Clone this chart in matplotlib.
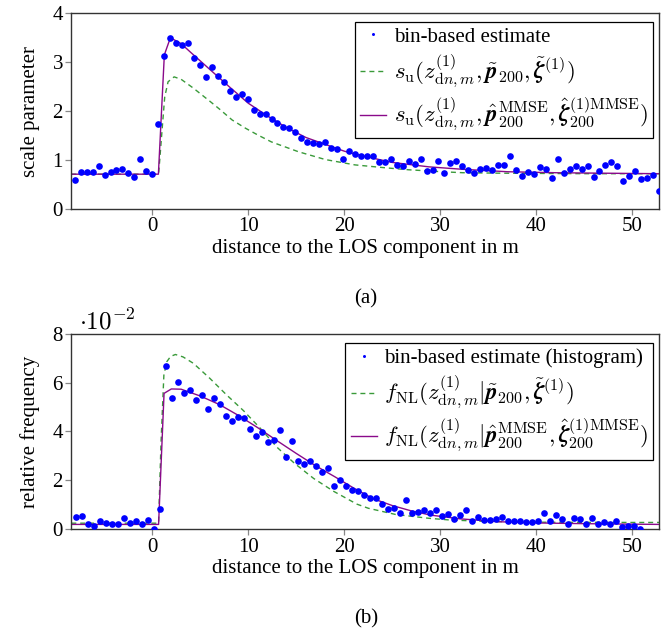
import matplotlib
matplotlib.use("Agg")
import matplotlib.pyplot as plt
import numpy as np

plt.rcParams['font.family'] = ['Liberation Serif', 'DejaVu Serif']
plt.rcParams['mathtext.fontset'] = 'cm'

# ---------------- data: panel (a) ----------------
x_top = np.linspace(-8.08, 52.78, 99)  # bin centres (m)
scale_est = [0.585, 0.75, 0.76, 0.76, 0.88, 0.69, 0.75, 0.80, 0.82, 0.73,
             0.65, 1.02, 0.78, 0.71, 1.74, 3.13, 3.50, 3.40, 3.36, 3.40,
             3.09, 2.95, 2.69, 2.90, 2.72, 2.60, 2.41, 2.29, 2.35, 2.24,
             2.02, 1.94, 1.95, 1.83, 1.76, 1.67, 1.66, 1.57, 1.44, 1.36,
             1.34, 1.33, 1.36, 1.24, 1.22, 1.02, 1.19, 1.12, 1.09, 1.08,
             1.09, 0.95, 0.95, 1.03, 0.90, 0.87, 0.97, 0.91, 1.02, 0.77,
             0.79, 0.97, 0.74, 0.94, 0.97, 0.88, 0.80, 0.73, 0.81, 0.83,
             0.79, 0.90, 0.90, 1.09, 0.79, 0.68, 0.76, 0.71, 0.86, 0.82,
             0.63, 1.03, 0.73, 0.82, 0.88, 0.82, 0.88, 0.65, 0.78, 0.90,
             0.95, 0.88, 0.58, 0.67, 0.78, 0.61, 0.64, 0.69, 0.36]

su_tilde_x = [-8.44, 0.65, 0.77, 1.04, 1.29, 1.64, 2.27, 3.0, 4.27, 6.0, 7.0,
              8.3, 9.7, 11.0, 12.4, 13.8, 15.2, 16.6, 18.0, 19.4, 21.1, 24.3,
              26.7, 30.2, 32.3, 36.4, 45.0, 52.8]
su_tilde_y = [0.71, 0.71, 1.0, 1.68, 2.29, 2.6, 2.70, 2.65, 2.47, 2.2, 2.04,
              1.82, 1.65, 1.51, 1.37, 1.27, 1.17, 1.09, 1.01, 0.96, 0.90, 0.84,
              0.80, 0.76, 0.74, 0.73, 0.72, 0.72]

su_mmse_x = [-8.44, 0.63, 1.25, 1.88, 3.0, 4.0, 6.0, 8.0, 10.0, 12.0, 14.0,
             16.0, 18.0, 20.0, 22.0, 25.0, 28.8, 32.3, 37.0, 42.0, 47.0, 52.8]
su_mmse_y = [0.71, 0.71, 3.15, 3.50, 3.38, 3.2, 2.85, 2.5, 2.16, 1.9, 1.66,
             1.46, 1.32, 1.18, 1.08, 0.95, 0.86, 0.81, 0.76, 0.74, 0.73, 0.72]

# ---------------- data: panel (b) (values in units of 1e-2) ----------------
x_bot = np.linspace(-7.94, 50.81, 95)  # bin centres (m)
freq_est = [0.50, 0.54, 0.22, 0.14, 0.35, 0.27, 0.20, 0.22, 0.47, 0.24,
            0.35, 0.22, 0.39, 0.03, 0.83, 6.66, 5.37, 6.02, 5.59, 5.70,
            5.29, 5.48, 4.92, 5.37, 5.11, 4.63, 4.42, 4.59, 4.56, 4.09,
            3.82, 3.97, 3.56, 3.65, 4.05, 2.97, 3.60, 2.78, 2.67, 2.78,
            2.58, 2.34, 2.49, 1.76, 2.02, 1.77, 1.61, 1.58, 1.40, 1.28,
            1.29, 1.03, 0.83, 0.88, 0.68, 1.20, 0.68, 0.72, 0.80, 0.68,
            0.80, 0.53, 0.61, 0.42, 0.58, 0.80, 0.35, 0.52, 0.37, 0.38,
            0.41, 0.52, 0.33, 0.34, 0.34, 0.29, 0.29, 0.35, 0.65, 0.35,
            0.60, 0.41, 0.23, 0.47, 0.41, 0.23, 0.46, 0.23, 0.29, 0.23,
            0.33, 0.11, 0.15, 0.15, 0.02]

f_tilde_x = [-8.44, 0.65, 0.9, 1.2, 1.5, 1.9, 2.4, 3.2, 4.27, 6.0, 7.75, 9.5,
             11.2, 13.0, 14.8, 16.8, 18.9, 21.3, 22.5, 25.3, 28.8, 31.0, 35.0,
             40.0, 50.0, 52.8]
f_tilde_y = [0.25, 0.25, 3.5, 6.3, 6.85, 7.07, 7.15, 7.05, 6.79, 6.17, 5.49,
             4.85, 4.15, 3.35, 2.7, 2.08, 1.55, 1.03, 0.86, 0.61, 0.45, 0.38,
             0.32, 0.29, 0.28, 0.28]

f_mmse_x = [-8.44, 0.65, 1.22, 1.98, 3.0, 5.0, 7.0, 9.0, 11.0, 13.0, 15.0,
            17.0, 19.0, 21.0, 23.0, 25.0, 27.0, 29.0, 32.0, 36.0, 40.0, 45.0,
            50.0, 52.8]
f_mmse_y = [0.20, 0.20, 5.56, 5.74, 5.73, 5.45, 5.1, 4.65, 4.15, 3.62, 3.1,
            2.6, 2.15, 1.68, 1.25, 0.97, 0.75, 0.58, 0.43, 0.31, 0.26, 0.23,
            0.21, 0.20]

# ---------------- styling ----------------
BLUE = '#0000ff'
GREEN = '#3a9a3a'
PURPLE = '#8a0a8a'
FS = 15
MATH_FS = 16.4

fig = plt.figure(figsize=(6.62, 6.37), dpi=100)
W, H = 662.0, 637.0
L, R = 71.3, 659.3
ax1 = fig.add_axes([L / W, 1 - 208.9 / H, (R - L) / W, 195.6 / H])
ax2 = fig.add_axes([L / W, 1 - 529.3 / H, (R - L) / W, 195.6 / H])

dash = (0, (3.6, 2.8))


def style(ax):
    for s in ax.spines.values():
        s.set_linewidth(1.0)
        s.set_color('#333333')
    ax.tick_params(direction='out', length=4, width=0.9, color='#888888',
                   labelsize=FS, pad=2, top=False, right=False)
    ax.set_xlim(-8.44, 52.8)
    ax.set_xticks([0, 10, 20, 30, 40, 50])
    ax.set_xlabel('distance to the LOS component in m', fontsize=FS, labelpad=2)


leg_kw = dict(loc='upper right', borderaxespad=0, fontsize=FS, fancybox=False,
              framealpha=1, edgecolor='black', markerscale=0.45, numpoints=1,
              handlelength=1.25, handletextpad=0.35, borderpad=0.25,
              labelspacing=0.3)


def finish_legend(leg):
    leg.get_frame().set_linewidth(0.9)
    for t in leg.get_texts()[1:]:
        t.set_fontsize(MATH_FS)


# panel (a)
ax1.plot(x_top, scale_est, 'o', color=BLUE, ms=4.8, mec='none',
         label='bin-based estimate', zorder=3, clip_on=True)
ax1.plot(su_tilde_x, su_tilde_y, color=GREEN, lw=1.0, ls=dash,
         label=r'$s_{\mathrm{u}}(z^{(1)}_{\mathrm{d}n,m}, \tilde{\boldsymbol{p}}_{200}, \tilde{\boldsymbol{\zeta}}^{(1)})$')
ax1.plot(su_mmse_x, su_mmse_y, color=PURPLE, lw=1.0,
         label=r'$s_{\mathrm{u}}(z^{(1)}_{\mathrm{d}n,m}, \hat{\boldsymbol{p}}^{\mathrm{MMSE}}_{200}, \hat{\boldsymbol{\zeta}}^{(1)\mathrm{MMSE}}_{200})$')
style(ax1)
ax1.set_ylim(0, 4)
ax1.set_yticks([0, 1, 2, 3, 4])
ax1.set_ylabel('scale parameter', fontsize=FS, labelpad=9)
leg1 = ax1.legend(bbox_to_anchor=(0.9898, 0.957), **leg_kw)
finish_legend(leg1)

# panel (b)
ax2.plot(x_bot, freq_est, 'o', color=BLUE, ms=4.8, mec='none',
         label='bin-based estimate (histogram)', zorder=3)
ax2.plot(f_tilde_x, f_tilde_y, color=GREEN, lw=1.0, ls=dash,
         label=r'$f_{\mathrm{NL}}(z^{(1)}_{\mathrm{d}n,m}|\tilde{\boldsymbol{p}}_{200}, \tilde{\boldsymbol{\zeta}}^{(1)})$')
ax2.plot(f_mmse_x, f_mmse_y, color=PURPLE, lw=1.0,
         label=r'$f_{\mathrm{NL}}(z^{(1)}_{\mathrm{d}n,m}|\hat{\boldsymbol{p}}^{\mathrm{MMSE}}_{200}, \hat{\boldsymbol{\zeta}}^{(1)\mathrm{MMSE}}_{200})$')
style(ax2)
ax2.set_ylim(0, 8)
ax2.set_yticks([0, 2, 4, 6, 8])
ax2.set_ylabel('relative frequency', fontsize=FS, labelpad=9)
leg2 = ax2.legend(bbox_to_anchor=(0.9898, 0.953), **leg_kw)
finish_legend(leg2)

fig.text(79 / W, 1 - 322 / H, r'$\cdot 10^{-2}$', fontsize=18, ha='left', va='center')
fig.text(366 / W, 1 - 299 / H, '(a)', fontsize=FS, ha='center', va='center')
fig.text(366 / W, 1 - 619 / H, '(b)', fontsize=FS, ha='center', va='center')

fig.savefig('out.png', dpi=100)
